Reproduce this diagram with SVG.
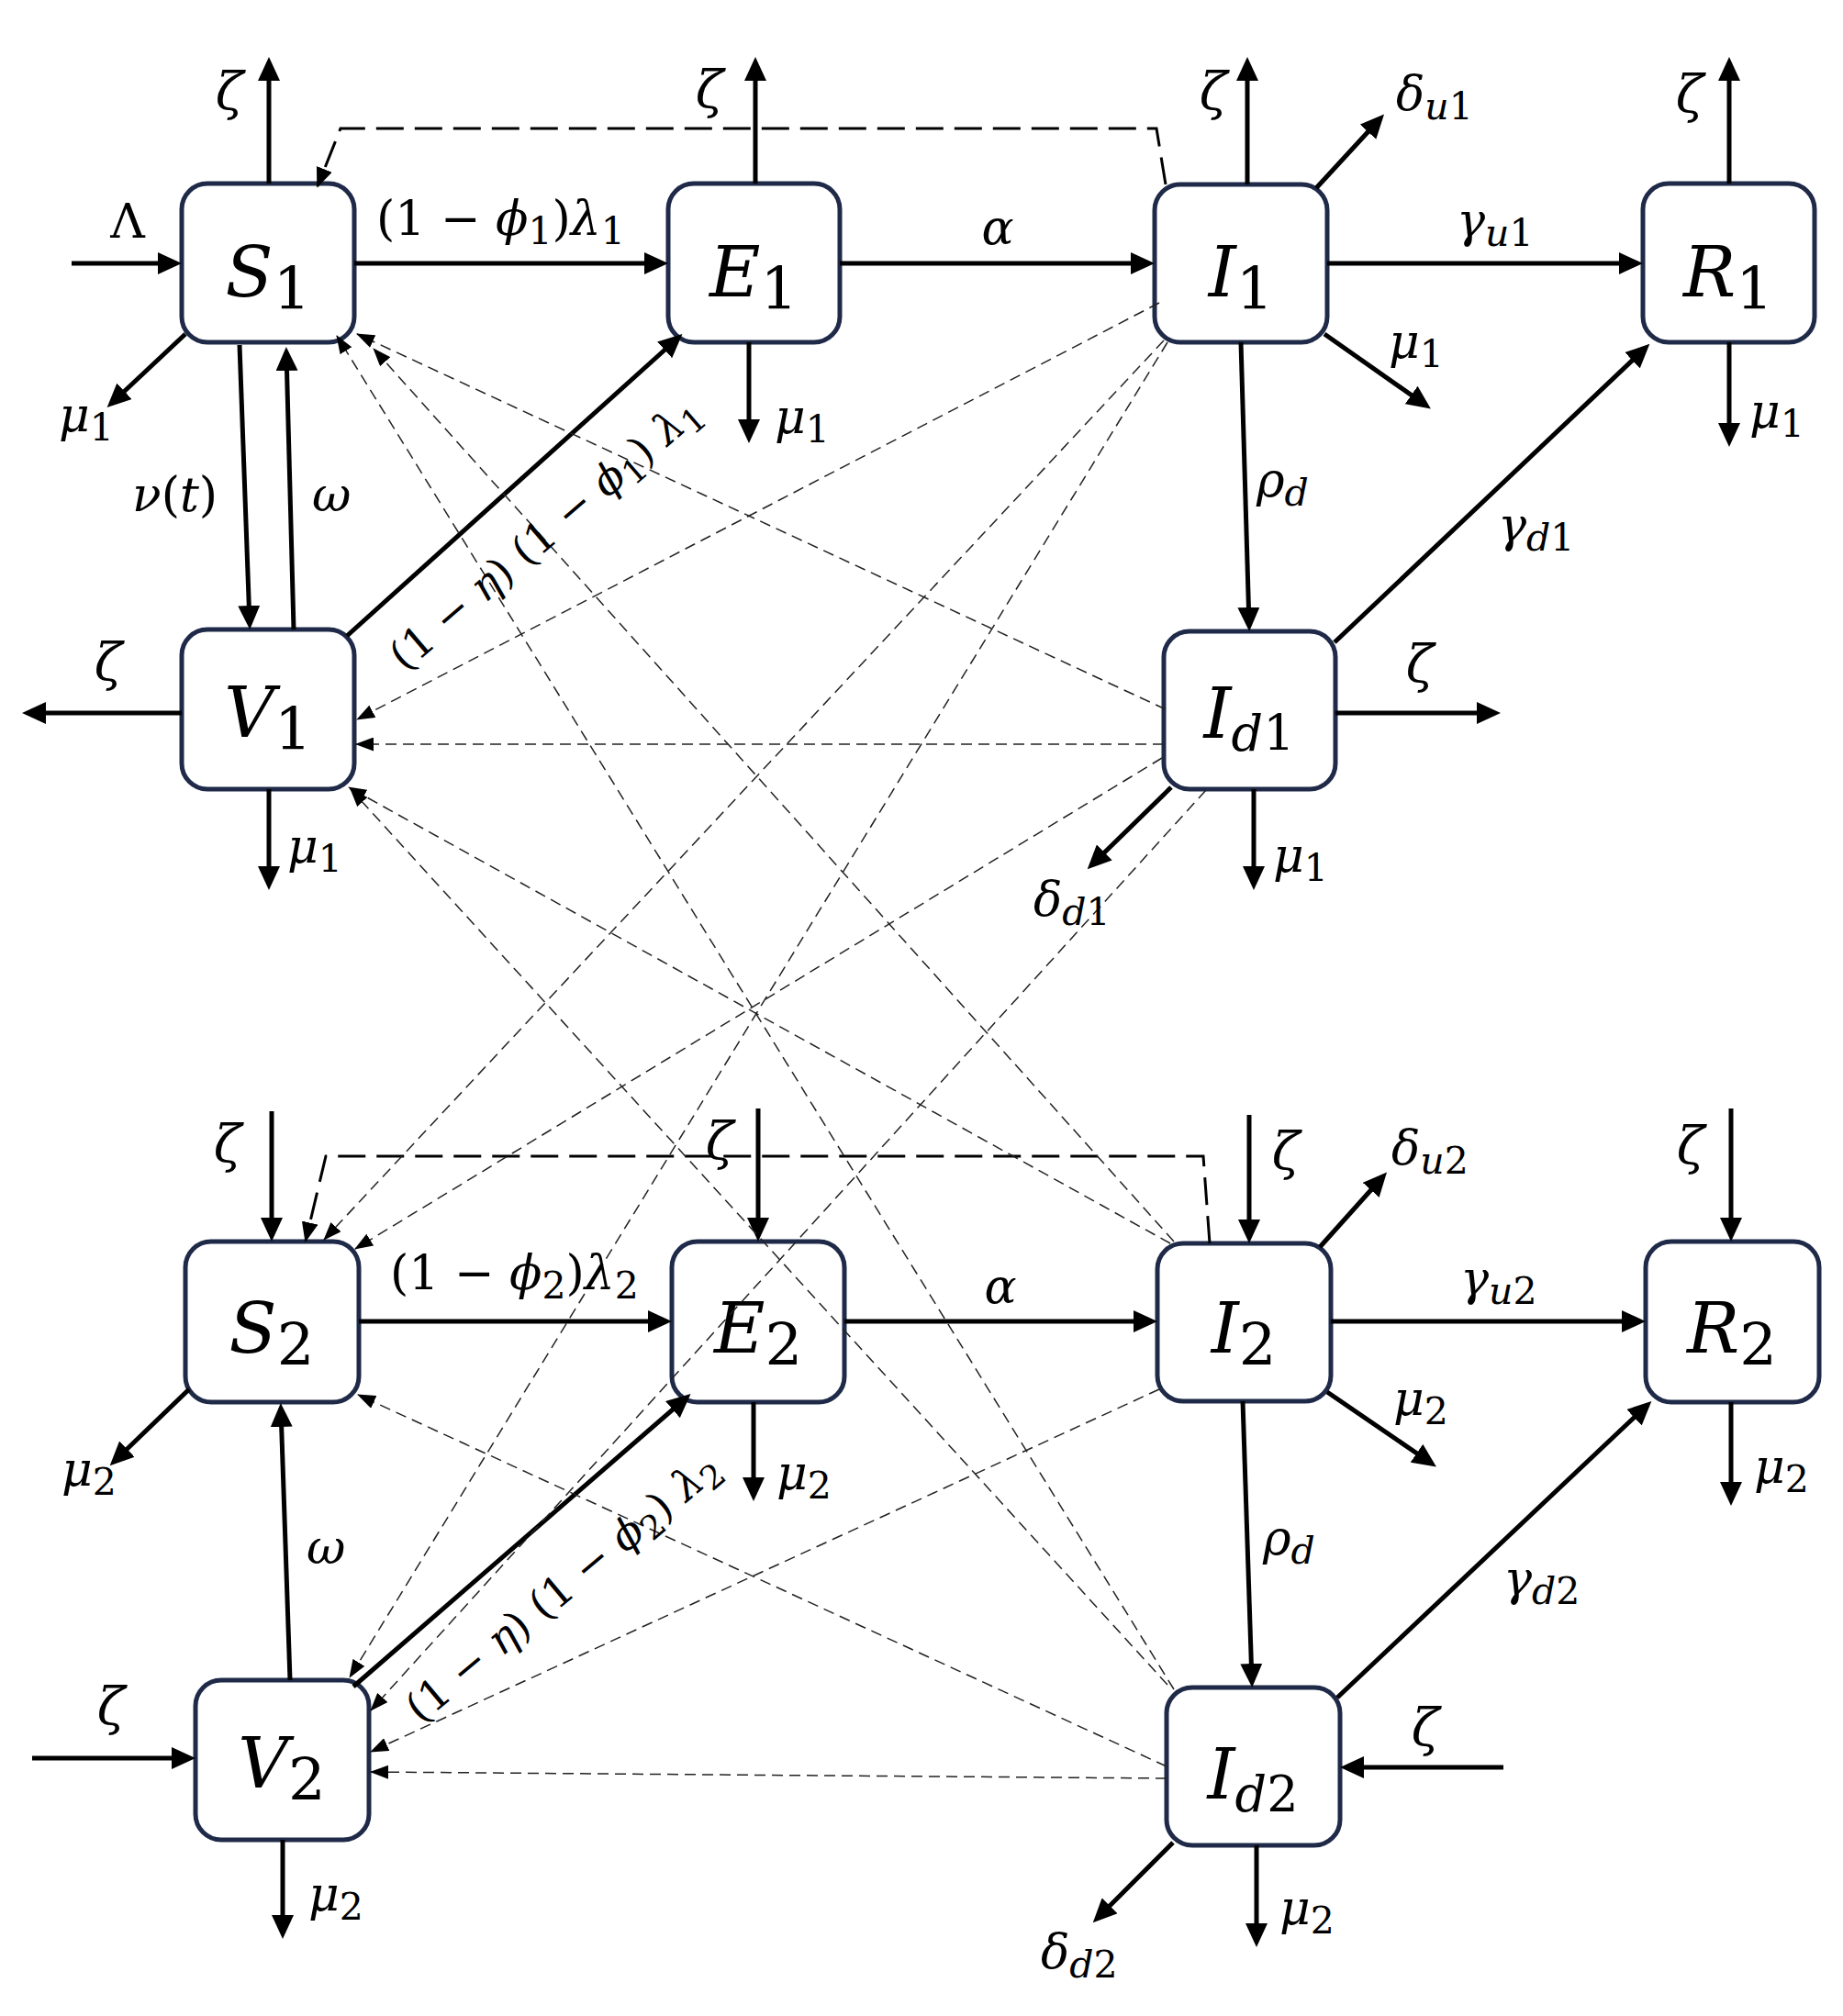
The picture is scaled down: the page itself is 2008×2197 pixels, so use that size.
<svg xmlns="http://www.w3.org/2000/svg" width="2008" height="2197" viewBox="0 0 2008 2197">
<style>
.box{fill:#fff;stroke:#1f2a48;stroke-width:5}
.nl{font-family:"DejaVu Serif",serif;font-size:76px;font-style:italic;text-anchor:middle;fill:#000}
.ns{font-size:64px;font-style:normal}
.nd{font-size:54px}
.lb{font-family:"DejaVu Serif",serif;font-size:52px;fill:#000}
.i{font-style:italic}
.s{font-size:41px}
.z{font-family:"DejaVu Serif",serif;font-size:56px;font-style:italic;text-anchor:middle;fill:#000}
.rl{font-size:46px}
.rs{font-size:36px}
.ln{stroke:#000;stroke-width:5;fill:none;marker-end:url(#ah)}
.dt{stroke:#222;stroke-width:1.5;stroke-dasharray:12 7;fill:none;marker-end:url(#ahd)}
.dk{stroke:#000;stroke-width:3;stroke-dasharray:30 12;fill:none;marker-end:url(#ahk)}
</style>
<defs>
<marker id="ah" markerUnits="userSpaceOnUse" markerWidth="26" markerHeight="24" refX="20" refY="12" orient="auto"><path d="M0,0 L26,12 L0,24 z" fill="#000"/></marker>
<marker id="ahd" markerUnits="userSpaceOnUse" markerWidth="20" markerHeight="15" refX="19" refY="7.5" orient="auto"><path d="M0,0 L20,7.5 L0,15 z" fill="#000"/></marker>
<marker id="ahk" markerUnits="userSpaceOnUse" markerWidth="22" markerHeight="18" refX="20" refY="9" orient="auto"><path d="M0,0 L22,9 L0,18 z" fill="#000"/></marker>
</defs>
<rect width="2008" height="2197" fill="#fff"/>

<g id="S1"><rect class="box" x="198" y="200" width="188" height="173" rx="28"/><text class="nl" x="292" y="323">S<tspan class="ns" dy="14">1</tspan></text></g>
<g id="E1"><rect class="box" x="728" y="200" width="187" height="173" rx="28"/><text class="nl" x="821" y="323">E<tspan class="ns" dy="14">1</tspan></text></g>
<g id="I1"><rect class="box" x="1258" y="201" width="188" height="172" rx="28"/><text class="nl" x="1352" y="323">I<tspan class="ns" dy="14">1</tspan></text></g>
<g id="R1"><rect class="box" x="1790" y="200" width="187" height="173" rx="28"/><text class="nl" x="1883" y="323">R<tspan class="ns" dy="14">1</tspan></text></g>
<g id="V1"><rect class="box" x="198" y="686" width="188" height="174" rx="28"/><text class="nl" x="292" y="803">V<tspan class="ns" dy="14">1</tspan></text></g>
<g id="Id1"><rect class="box" x="1268" y="688" width="187" height="172" rx="28"/><text class="nl" x="1361" y="804">I<tspan class="nd" dy="14">d</tspan><tspan class="ns nd">1</tspan></text></g>
<g id="S2"><rect class="box" x="202" y="1353" width="189" height="175" rx="28"/><text class="nl" x="296" y="1474">S<tspan class="ns" dy="14">2</tspan></text></g>
<g id="E2"><rect class="box" x="732" y="1353" width="188" height="175" rx="28"/><text class="nl" x="826" y="1474">E<tspan class="ns" dy="14">2</tspan></text></g>
<g id="I2"><rect class="box" x="1261" y="1355" width="189" height="172" rx="28"/><text class="nl" x="1355" y="1474">I<tspan class="ns" dy="14">2</tspan></text></g>
<g id="R2"><rect class="box" x="1793" y="1353" width="189" height="175" rx="28"/><text class="nl" x="1887" y="1474">R<tspan class="ns" dy="14">2</tspan></text></g>
<g id="V2"><rect class="box" x="213" y="1831" width="189" height="174" rx="28"/><text class="nl" x="307" y="1948">V<tspan class="ns" dy="14">2</tspan></text></g>
<g id="Id2"><rect class="box" x="1271" y="1839" width="189" height="172" rx="28"/><text class="nl" x="1365" y="1960">I<tspan class="nd" dy="14">d</tspan><tspan class="ns nd">2</tspan></text></g>

<g id="connectors">
<path class="ln" d="M78,287 H192"/>
<path class="ln" d="M386,287 H722"/>
<path class="ln" d="M293,200 V68"/>
<path class="ln" d="M823,200 V68"/>
<path class="ln" d="M816,373 V477"/>
<path class="ln" d="M202,364 L121,440"/>
<path class="ln" d="M261,376 L272,680"/>
<path class="ln" d="M320,686 L312,384"/>
<path class="ln" d="M378,693 L739,368"/>
<path class="ln" d="M198,777 H30"/>
<path class="ln" d="M293,860 V964"/>
<path class="ln" d="M915,287 H1252"/>
<path class="ln" d="M1359,201 V68"/>
<path class="ln" d="M1434,205 L1504,129"/>
<path class="ln" d="M1446,287 H1784"/>
<path class="ln" d="M1884,200 V68"/>
<path class="ln" d="M1884,373 V481"/>
<path class="ln" d="M1443,364 L1554,442"/>
<path class="ln" d="M1352,373 L1361,682"/>
<path class="ln" d="M1454,700 L1793,379"/>
<path class="ln" d="M1455,777 H1629"/>
<path class="ln" d="M1366,860 V964"/>
<path class="ln" d="M1276,858 L1189,943"/>
<path class="ln" d="M296,1211 V1347"/>
<path class="ln" d="M391,1440 H726"/>
<path class="ln" d="M826,1208 V1347"/>
<path class="ln" d="M206,1514 L124,1593"/>
<path class="ln" d="M316,1831 L306,1535"/>
<path class="ln" d="M821,1528 V1630"/>
<path class="ln" d="M385,1838 L748,1523"/>
<path class="ln" d="M35,1916 H207"/>
<path class="ln" d="M308,2005 V2107"/>
<path class="ln" d="M920,1440 H1255"/>
<path class="ln" d="M1361,1215 V1349"/>
<path class="ln" d="M1438,1359 L1507,1282"/>
<path class="ln" d="M1450,1440 H1787"/>
<path class="ln" d="M1886,1208 V1347"/>
<path class="ln" d="M1886,1528 V1635"/>
<path class="ln" d="M1446,1517 L1560,1595"/>
<path class="ln" d="M1354,1527 L1364,1833"/>
<path class="ln" d="M1457,1850 L1795,1531"/>
<path class="ln" d="M1638,1926 H1466"/>
<path class="ln" d="M1369,2011 V2116"/>
<path class="ln" d="M1278,2008 L1195,2091"/>

<path class="dk" d="M1270,201 L1260,140 L371,140 L346,203"/>
<path class="dk" d="M1318,1355 L1311,1260 L355,1260 L333,1352"/>

<path class="dt" d="M1263,330 L389,784"/>
<path class="dt" d="M1268,371 L353,1351"/>
<path class="dt" d="M1272,373 L381,1828"/>
<path class="dt" d="M1270,773 L389,364"/>
<path class="dt" d="M1268,811 L388,811"/>
<path class="dt" d="M1266,826 L387,1361"/>
<path class="dt" d="M1314,861 L404,1864"/>
<path class="dt" d="M1279,1353 L407,380"/>
<path class="dt" d="M1275,1355 L380,858"/>
<path class="dt" d="M1263,1514 L404,1909"/>
<path class="dt" d="M1279,1841 L367,366"/>
<path class="dt" d="M1272,1836 L382,860"/>
<path class="dt" d="M1271,1925 L390,1520"/>
<path class="dt" d="M1271,1938 L404,1931"/>
</g>

<g id="labels">
<text class="lb" x="139" y="259" text-anchor="middle" font-size="44">Λ</text>
<text class="lb" x="410" y="256">(1 − <tspan class="i">ϕ</tspan><tspan class="s" dy="10">1</tspan><tspan dy="-10">)</tspan><tspan class="i">λ</tspan><tspan class="s" dy="10">1</tspan></text>
<text class="z" x="250" y="119">ζ</text>
<text class="z" x="773" y="117">ζ</text>
<text class="lb" x="844" y="472"><tspan class="i">μ</tspan><tspan class="s" dy="10">1</tspan></text>
<text class="lb" x="64" y="470"><tspan class="i">μ</tspan><tspan class="s" dy="10">1</tspan></text>
<text class="lb" x="144" y="557"><tspan class="i">ν</tspan>(<tspan class="i">t</tspan>)</text>
<text class="lb i" x="340" y="557">ω</text>
<text class="z" x="118" y="741">ζ</text>
<text class="lb" x="313" y="940"><tspan class="i">μ</tspan><tspan class="s" dy="10">1</tspan></text>
<text class="lb i" x="1087" y="266" text-anchor="middle">α</text>
<text class="z" x="1322" y="119">ζ</text>
<text class="lb" x="1521" y="120"><tspan class="i">δ</tspan><tspan class="s i" dy="10">u</tspan><tspan class="s">1</tspan></text>
<text class="lb" x="1587" y="258"><tspan class="i">γ</tspan><tspan class="s i" dy="10">u</tspan><tspan class="s">1</tspan></text>
<text class="z" x="1841" y="122">ζ</text>
<text class="lb" x="1906" y="466"><tspan class="i">μ</tspan><tspan class="s" dy="10">1</tspan></text>
<text class="lb" x="1513" y="390"><tspan class="i">μ</tspan><tspan class="s" dy="10">1</tspan></text>
<text class="lb" x="1369" y="541"><tspan class="i">ρ</tspan><tspan class="s i" dy="10">d</tspan></text>
<text class="lb" x="1632" y="590"><tspan class="i">γ</tspan><tspan class="s i" dy="10">d</tspan><tspan class="s">1</tspan></text>
<text class="z" x="1547" y="743">ζ</text>
<text class="lb" x="1387" y="950"><tspan class="i">μ</tspan><tspan class="s" dy="10">1</tspan></text>
<text class="lb" x="1126" y="998"><tspan class="i">δ</tspan><tspan class="s i" dy="10">d</tspan><tspan class="s">1</tspan></text>
<text class="lb rl" text-anchor="middle" transform="translate(604,593) rotate(-40.7)">(1 − <tspan class="i">η</tspan>) (1 − <tspan class="i">ϕ</tspan><tspan class="rs" dy="9">1</tspan><tspan dy="-9">) </tspan><tspan class="i">λ</tspan><tspan class="rs" dy="9">1</tspan></text>

<text class="z" x="248" y="1266">ζ</text>
<text class="lb" x="425" y="1405">(1 − <tspan class="i">ϕ</tspan><tspan class="s" dy="10">2</tspan><tspan dy="-10">)</tspan><tspan class="i">λ</tspan><tspan class="s" dy="10">2</tspan></text>
<text class="z" x="784" y="1263">ζ</text>
<text class="lb" x="67" y="1619"><tspan class="i">μ</tspan><tspan class="s" dy="10">2</tspan></text>
<text class="lb i" x="334" y="1704">ω</text>
<text class="lb" x="846" y="1623"><tspan class="i">μ</tspan><tspan class="s" dy="10">2</tspan></text>
<text class="z" x="121" y="1879">ζ</text>
<text class="lb" x="336" y="2082"><tspan class="i">μ</tspan><tspan class="s" dy="10">2</tspan></text>
<text class="lb i" x="1090" y="1420" text-anchor="middle">α</text>
<text class="z" x="1401" y="1274">ζ</text>
<text class="lb" x="1516" y="1269"><tspan class="i">δ</tspan><tspan class="s i" dy="10">u</tspan><tspan class="s">2</tspan></text>
<text class="lb" x="1591" y="1411"><tspan class="i">γ</tspan><tspan class="s i" dy="10">u</tspan><tspan class="s">2</tspan></text>
<text class="z" x="1842" y="1268">ζ</text>
<text class="lb" x="1911" y="1616"><tspan class="i">μ</tspan><tspan class="s" dy="10">2</tspan></text>
<text class="lb" x="1518" y="1542"><tspan class="i">μ</tspan><tspan class="s" dy="10">2</tspan></text>
<text class="lb" x="1376" y="1694"><tspan class="i">ρ</tspan><tspan class="s i" dy="10">d</tspan></text>
<text class="lb" x="1638" y="1738"><tspan class="i">γ</tspan><tspan class="s i" dy="10">d</tspan><tspan class="s">2</tspan></text>
<text class="z" x="1553" y="1902">ζ</text>
<text class="lb" x="1394" y="2097"><tspan class="i">μ</tspan><tspan class="s" dy="10">2</tspan></text>
<text class="lb" x="1134" y="2145"><tspan class="i">δ</tspan><tspan class="s i" dy="10">d</tspan><tspan class="s">2</tspan></text>
<text class="lb rl" text-anchor="middle" transform="translate(623,1742) rotate(-39.9)">(1 − <tspan class="i">η</tspan>) (1 − <tspan class="i">ϕ</tspan><tspan class="rs" dy="9">2</tspan><tspan dy="-9">) </tspan><tspan class="i">λ</tspan><tspan class="rs" dy="9">2</tspan></text>
</g>
</svg>
